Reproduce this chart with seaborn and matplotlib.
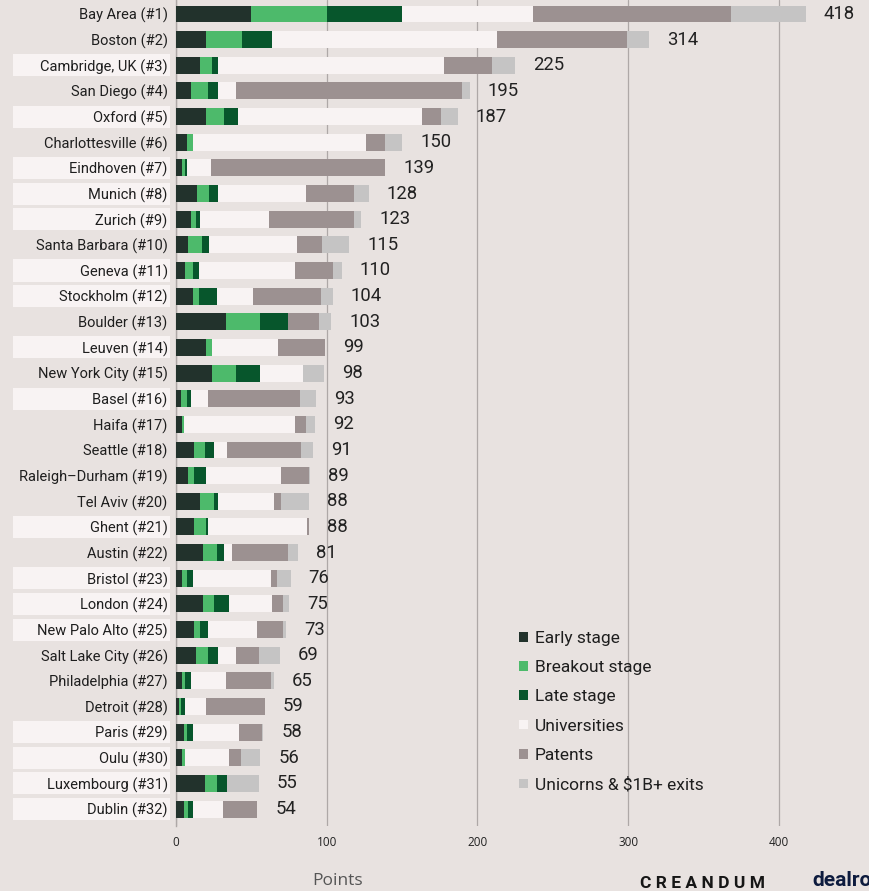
import numpy as np
import pandas as pd
import matplotlib
matplotlib.use("Agg")
import matplotlib.pyplot as plt
import matplotlib.transforms as mtransforms
from matplotlib.patches import Patch, Rectangle
import seaborn as sns

cities = ["Bay Area (#1)", "Boston (#2)", "Cambridge, UK (#3)", "San Diego (#4)", "Oxford (#5)",
          "Charlottesville (#6)", "Eindhoven (#7)", "Munich (#8)", "Zurich (#9)", "Santa Barbara (#10)",
          "Geneva (#11)", "Stockholm (#12)", "Boulder (#13)", "Leuven (#14)", "New York City (#15)",
          "Basel (#16)", "Haifa (#17)", "Seattle (#18)", "Raleigh\u2013Durham (#19)", "Tel Aviv (#20)",
          "Ghent (#21)", "Austin (#22)", "Bristol (#23)", "London (#24)", "New Palo Alto (#25)",
          "Salt Lake City (#26)", "Philadelphia (#27)", "Detroit (#28)", "Paris (#29)", "Oulu (#30)",
          "Luxembourg (#31)", "Dublin (#32)"]
european = [False, False, True, False, True, False, True, True, True, False,
            True, True, False, True, False, True, False, False, False, False,
            True, False, True, True, True, False, False, False, True, True,
            True, True]

early =        [50, 20, 16, 10, 20, 7, 4, 14, 10, 8, 6, 11, 33, 20, 24, 3, 4, 12, 8, 16, 12, 18, 4, 18, 12, 13, 4, 2, 5, 4, 19, 5]
breakout =     [50, 24, 8, 11, 12, 4, 2, 8, 3, 9, 5, 4, 23, 4, 16, 4, 1, 7, 4, 9, 8, 9, 3, 7, 4, 8, 2, 1, 2, 2, 8, 3]
late =         [50, 20, 4, 7, 9, 0, 1, 6, 3, 5, 4, 12, 18, 0, 16, 3, 0, 6, 8, 3, 1, 5, 4, 10, 5, 7, 4, 3, 4, 0, 7, 3]
universities = [87, 149, 150, 12, 122, 115, 16, 58, 46, 58, 64, 24, 0, 44, 28, 11, 74, 9, 50, 37, 66, 5, 52, 29, 33, 12, 23, 14, 31, 29, 0, 20]
patents =      [131, 86, 32, 150, 13, 13, 116, 32, 56, 17, 25, 45, 21, 31, 0, 61, 7, 49, 18, 5, 1, 37, 4, 7, 17, 15, 30, 39, 15, 8, 0, 23]
unicorns =     [50, 15, 15, 5, 11, 11, 0, 10, 5, 18, 6, 8, 8, 0, 14, 11, 6, 8, 1, 18, 0, 7, 9, 4, 2, 14, 2, 0, 1, 13, 21, 0]
totals =       [418, 314, 225, 195, 187, 150, 139, 128, 123, 115, 110, 104, 103, 99, 98, 93, 92, 91, 89, 88, 88, 81, 76, 75, 73, 69, 65, 59, 58, 56, 55, 54]

series_names = ["Early stage", "Breakout stage", "Late stage", "Universities", "Patents", "Unicorns & $1B+ exits"]
series_colors = ["#22322c", "#4dba6b", "#07562c", "#f8f3f3", "#9c9191", "#c5c4c4"]

BG = "#e8e2e0"
df = pd.DataFrame({"city": cities, "Early stage": early, "Breakout stage": breakout,
                   "Late stage": late, "Universities": universities, "Patents": patents,
                   "Unicorns & $1B+ exits": unicorns})
cum = df[series_names].cumsum(axis=1)

sns.set_theme(style="white")
plt.rcParams["font.family"] = ["Roboto", "DejaVu Sans"]

fig = plt.figure(figsize=(8.7, 8.91), dpi=100, facecolor=BG)
ax = fig.add_axes([176 / 870, 1 - 826 / 891, 1 - 176 / 870, 826 / 891])
ax.set_facecolor(BG)

for name, color in reversed(list(zip(series_names, series_colors))):
    sns.barplot(x=cum[name], y=df["city"], color=color, orient="h", width=0.66,
                ax=ax, saturation=1, edgecolor="none", linewidth=0, zorder=3)

ax.set_xlim(0, 460.5)
ax.set_ylim(31.66, -0.546)
ax.set_xticks([0, 100, 200, 300, 400])
ax.xaxis.grid(True, color="#aea8a7", linewidth=0.9, zorder=0)
ax.yaxis.grid(False)
for s in ["top", "right", "bottom"]:
    ax.spines[s].set_visible(False)
ax.spines["left"].set_color("#aea8a7")
ax.spines["left"].set_linewidth(1.0)
ax.spines["left"].set_zorder(1)
ax.set_axisbelow(True)
ax.set_xlabel("")
ax.set_ylabel("")
ax.tick_params(axis="y", length=0, pad=6, labelsize=10.5, labelcolor="#1e1e1e")
ax.tick_params(axis="x", length=0, pad=7, labelsize=8.5, labelcolor="#222222")
for lab in ax.get_xticklabels():
    lab.set_fontfamily(["Open Sans", "DejaVu Sans"])

# highlight boxes behind European city labels
trans = mtransforms.blended_transform_factory(fig.transFigure, ax.transData)
for i, eu in enumerate(european):
    if eu:
        ax.add_patch(Rectangle((13 / 870, i - 0.43), 157 / 870, 0.86, transform=trans,
                               facecolor="#f8f3f3", edgecolor="none", clip_on=False, zorder=0))

# total value labels
for i, t in enumerate(totals):
    ax.annotate(str(t), xy=(t, i), xytext=(18, 0), textcoords="offset pixels",
                va="center", ha="left", fontsize=13.3, color="#222222", zorder=5)

handles = [Patch(facecolor=c, edgecolor="none") for c in series_colors]
fig.legend(handles, series_names, loc="upper left", bbox_to_anchor=(519 / 870, 1 - 631 / 891),
           frameon=False, fontsize=12.5, handlelength=0.5, handleheight=0.5,
           handletextpad=0.4, labelspacing=0.82, borderpad=0, borderaxespad=0,
           labelcolor="#1e1e1e")

fig.text(338 / 870, 1 - 881 / 891, "Points", ha="center", va="center", fontsize=12.5,
         color="#555555", fontfamily=["Open Sans", "DejaVu Sans"])
fig.text(640 / 870, 1 - 883 / 891, "C R E A N D U M", ha="left", va="center", fontsize=12.5,
         color="#161616", fontweight="bold", fontfamily=["Roboto", "DejaVu Sans"])
fig.text(812 / 870, 1 - 881 / 891, "dealroom", ha="left", va="center", fontsize=15,
         color="#0d1b3e", fontweight="bold", fontfamily=["Roboto", "DejaVu Sans"])

fig.savefig("out.png", dpi=100, facecolor=BG)
